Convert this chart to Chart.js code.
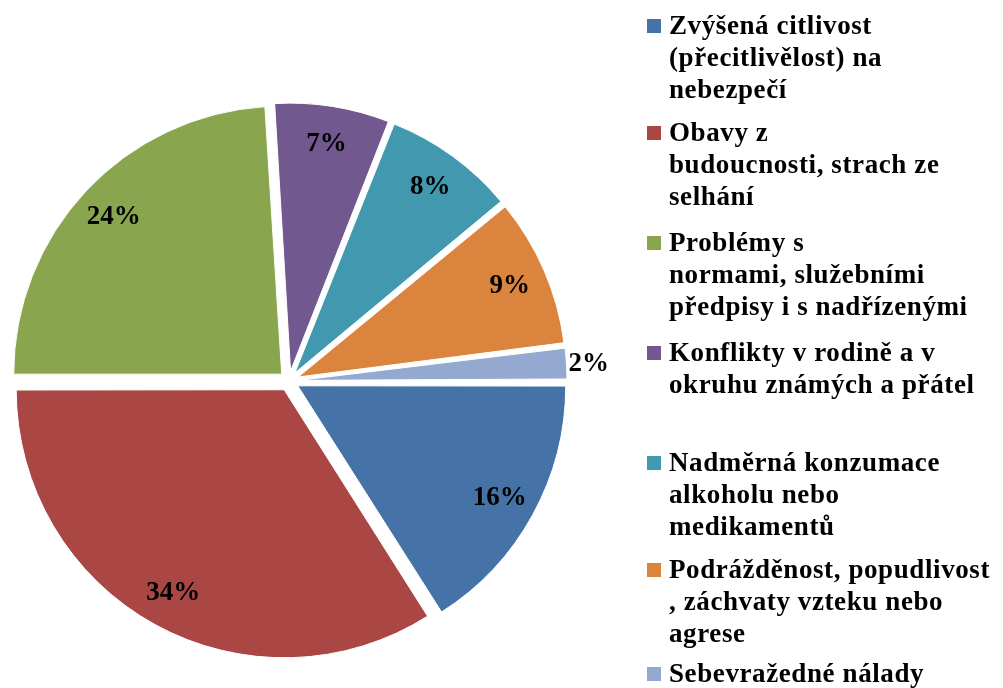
<!DOCTYPE html>
<html>
<head>
<meta charset="utf-8">
<script src="https://cdn.jsdelivr.net/npm/chart.js@4/dist/chart.umd.min.js"></script>
<style>
  html, body { margin: 0; padding: 0; background: #fff; }
  body { width: 1003px; height: 688px; position: relative; overflow: hidden; }
  #wrap { position: absolute; left: 0; top: 0; width: 640px; height: 688px; }
  #legend { position: absolute; left: 0; top: 0; width: 1003px; height: 688px; pointer-events: none; }
  .item { position: absolute; left: 669px; font-family: "Liberation Serif", "Times New Roman", serif; font-weight: bold; font-size: 27px; letter-spacing: 0.6px; line-height: 32px; color: #000; white-space: nowrap; }
  .sq { position: absolute; left: -22px; width: 14px; height: 14px; top: 10px; }
</style>
</head>
<body>
<div id="wrap"><canvas id="c"></canvas></div>
<div id="legend"></div>
<script>
// Data
const categories = [
  ["Zvýšená citlivost", "(přecitlivělost) na", "nebezpečí"],
  ["Obavy z", "budoucnosti, strach ze", "selhání"],
  ["Problémy s", "normami, služebními", "předpisy i s nadřízenými"],
  ["Konflikty v rodině a v", "okruhu známých a přátel", ""],
  ["Nadměrná konzumace", "alkoholu nebo", "medikamentů"],
  ["Podrážděnost, popudlivost", ", záchvaty vzteku nebo", "agrese"],
  ["Sebevražedné nálady"]
];
const values = [16, 34, 24, 7, 8, 9, 2];
const colors = ["#4572A7", "#AA4643", "#89A54E", "#71588F", "#4198AF", "#DB843D", "#93A9CF"];
const legendBaselines = [34, 141, 251, 361, 471, 578, 682];

const PIE_RADIUS = 268;
const EXPLODE = 10; // px shift of each slice

// Legend (HTML text)
const legend = document.getElementById('legend');
categories.forEach((lines, i) => {
  const d = document.createElement('div');
  d.className = 'item';
  d.style.top = (legendBaselines[i] - 25) + 'px';
  const sq = document.createElement('div');
  sq.className = 'sq';
  sq.style.background = colors[i];
  d.appendChild(sq);
  d.insertAdjacentHTML('beforeend', lines.map(l => l === '' ? '&nbsp;' : l.replace(/&/g,'&amp;')).join('<br>'));
  legend.appendChild(d);
});

// Keep every slice at the same radius (Chart.js enlarges narrow offset slices)
const equalRadius = {
  id: 'equalRadius',
  afterDatasetsUpdate(chart) {
    const meta = chart.getDatasetMeta(0);
    meta.data.forEach(arc => {
      const circ = arc.endAngle - arc.startAngle;
      const fix = 1 - Math.sin(Math.min(Math.PI, circ));
      const off = (arc.options.offset || 0) / 4;
      arc.outerRadius = PIE_RADIUS - off * fix;
    });
  }
};

const labelPlugin = {
  id: 'pctLabels',
  afterDatasetsDraw(chart) {
    const ctx = chart.ctx;
    const meta = chart.getDatasetMeta(0);
    ctx.save();
    ctx.font = 'bold 27px "Liberation Serif", "Times New Roman", serif';
    ctx.fillStyle = '#000';
    ctx.textBaseline = 'middle';
    meta.data.forEach((arc, i) => {
      const mid = (arc.startAngle + arc.endAngle) / 2;
      const off = (arc.options.offset || 0) / 4;
      const txt = values[i] + '%';
      let r, align;
      if (values[i] < 5) {
        r = PIE_RADIUS + off + 2;
        align = 'left';
      } else {
        r = PIE_RADIUS * 0.86 + off;
        align = 'center';
      }
      ctx.textAlign = align;
      ctx.fillText(txt, arc.x + Math.cos(mid) * r, arc.y + Math.sin(mid) * r + 1);
    });
    ctx.restore();
  }
};

new Chart(document.getElementById('c'), {
  type: 'pie',
  data: {
    labels: categories.map(l => l.filter(s => s).join(' ')),
    datasets: [{
      data: values,
      backgroundColor: colors,
      borderColor: '#ffffff',
      borderWidth: 1,
      offset: EXPLODE * 4,
      radius: PIE_RADIUS
    }]
  },
  options: {
    responsive: true,
    maintainAspectRatio: false,
    animation: false,
    rotation: 90,
    layout: { padding: { top: 74, bottom: 0, left: 0, right: 62 } },
    plugins: {
      legend: { display: false },
      tooltip: { enabled: false }
    }
  },
  plugins: [equalRadius, labelPlugin]
});
</script>
</body>
</html>
